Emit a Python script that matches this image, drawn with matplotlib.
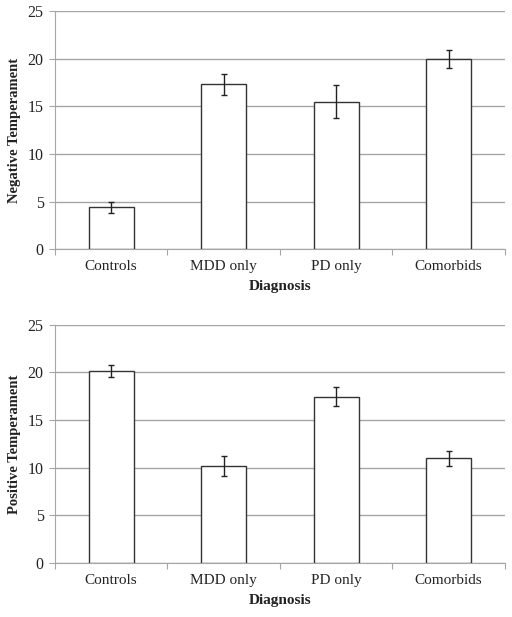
import numpy as np
import matplotlib.pyplot as plt

plt.rcParams['font.family'] = ['Liberation Serif', 'DejaVu Serif']

# data
groups = ['Controls', 'MDD only', 'PD only', 'Comorbids']
neg_mean = [4.4, 17.3, 15.5, 19.95]
neg_err = [0.6, 1.1, 1.7, 0.95]
pos_mean = [20.15, 10.15, 17.45, 11.0]
pos_err = [0.6, 1.05, 1.0, 0.78]

fig = plt.figure(figsize=(5.12, 6.17), dpi=100)
ax1 = fig.add_axes([0.107, 0.596, 0.879, 0.386])
ax2 = fig.add_axes([0.107, 0.0875, 0.879, 0.386])

grey = '#a6a6a6'
txt = '#222222'


def draw(ax, means, errs, ylabel):
    x = np.arange(len(groups))
    ax.bar(x, means, width=0.4, color='white', edgecolor='#333333', linewidth=1.0, zorder=3)
    ax.errorbar(x, means, yerr=errs, fmt='none', ecolor='#222222', elinewidth=1.0,
                capsize=2.5, capthick=1.0, zorder=4)
    ax.set_xlim(-0.5, len(groups) - 0.5)
    ax.set_ylim(0, 25)
    ax.set_yticks(range(0, 26, 5))
    ax.yaxis.grid(True, color=grey, linewidth=1.0, zorder=0)
    ax.set_axisbelow(True)
    # category labels between boundary ticks, like the spreadsheet original
    ax.set_xticks(np.arange(len(groups) + 1) - 0.5)
    ax.set_xticklabels([])
    ax.set_xticks(x, minor=True)
    ax.set_xticklabels(groups, minor=True, fontsize=11, color=txt)
    ax.tick_params(axis='x', which='minor', length=0, pad=8)
    ax.tick_params(axis='x', which='major', length=4, color=grey)
    ax.tick_params(axis='y', length=4, color=grey, labelsize=11.5, labelcolor=txt, pad=4)
    for s in ['top', 'right']:
        ax.spines[s].set_visible(False)
    ax.spines['left'].set_color(grey)
    ax.spines['bottom'].set_color(grey)
    ax.set_xlabel('Diagnosis', fontsize=11, fontweight='bold', labelpad=5, color=txt)
    ax.set_ylabel(ylabel, fontsize=10.5, fontweight='bold', labelpad=5, color=txt)


draw(ax1, neg_mean, neg_err, 'Negative Temperament')
draw(ax2, pos_mean, pos_err, 'Positive Temperament')

fig.savefig('out.png', dpi=100)
